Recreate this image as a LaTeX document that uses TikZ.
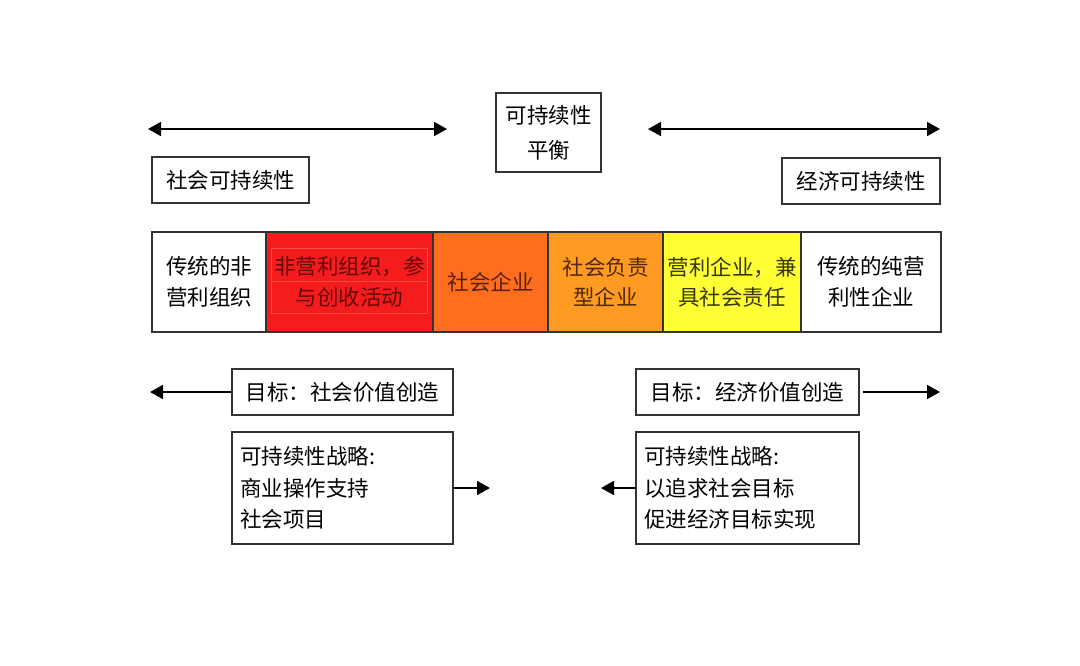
\documentclass[tikz,border=0pt]{standalone}
\usepackage{fontspec}
\setmainfont{Noto Sans CJK SC}
\usetikzlibrary{arrows.meta}
\definecolor{cred}{HTML}{F41C1C}
\definecolor{corA}{HTML}{FF6E1E}
\definecolor{corB}{HTML}{FF9A22}
\definecolor{cyel}{HTML}{FFFF33}
\definecolor{edge}{HTML}{333333}
\tikzset{
  box/.style={draw=edge, line width=1.2pt, fill=white, inner sep=0pt, font=\fontsize{21.5}{31.5}\selectfont, align=center},
  cell/.style={draw=edge, line width=1.2pt, inner sep=0pt, minimum height=100pt, font=\fontsize{21.5}{30.5}\selectfont, align=center},
  arr/.style={line width=1.8pt, -{Triangle[length=13pt,width=14pt]}},
  darr/.style={line width=1.8pt, {Triangle[length=13pt,width=14pt]}-{Triangle[length=13pt,width=14pt]}},
}
\begin{document}
\begin{tikzpicture}[x=1pt,y=-1pt]
\useasboundingbox[fill=white] (0,0) rectangle (1080,665);
% top row
\coordinate (tl1) at (148,129);
\coordinate (tl2) at (447,129);
\coordinate (tr1) at (648,129);
\coordinate (tr2) at (940,129);
\draw[darr] (tl1) -- (tl2);
\draw[darr] (tr1) -- (tr2);
\node[box, minimum width=105pt, minimum height=79pt, font=\fontsize{21.5}{35}\selectfont] (bal) at (548.5,132.5) {可持续性\\平衡};
\node[box, minimum width=157pt, minimum height=46pt] (soc) at (230.5,180) {社会可持续性};
\node[box, minimum width=158pt, minimum height=46pt] (eco) at (861,181) {经济可持续性};
% bar
\node[cell, fill=white, minimum width=114pt] (c1) at (209,282) {传统的非\\营利组织};
\node[cell, fill=cred, minimum width=167pt] (c2) at (349.5,282) {};
\begin{scope}[draw={rgb,255:red,245;green,75;blue,75}, line width=0.5pt]
\draw (c2.north west) ++(6,17) coordinate (g1) -- ++(156,0) coordinate (g2);
\draw (c2.north west) ++(6,50) coordinate (g3) -- ++(156,0) coordinate (g4);
\draw (c2.north west) ++(6,82) coordinate (g5) -- ++(156,0) coordinate (g6);
\draw (g1) -- (g5); \draw (g2) -- (g6);
\end{scope}
\node[font=\fontsize{21.5}{30.5}\selectfont, align=center, inner sep=0pt, text={rgb,255:red,100;green,8;blue,8}] (c2t) at (c2) {非营利组织，参\\与创收活动};
\node[cell, fill=corA, minimum width=115pt, text={rgb,255:red,90;green,32;blue,5}] (c3) at (490.5,282) {社会企业};
\node[cell, fill=corB, minimum width=115pt, text={rgb,255:red,80;green,42;blue,5}] (c4) at (605.5,282) {社会负责\\型企业};
\node[cell, fill=cyel, minimum width=138pt, text={rgb,255:red,55;green,55;blue,10}] (c5) at (732,282) {营利企业，兼\\具社会责任};
\node[cell, fill=white, minimum width=140pt] (c6) at (871,282) {传统的纯营\\利性企业};
% goals
\node[box, minimum width=221pt, minimum height=46pt] (gs) at (342.5,392) {目标：社会价值创造};
\node[box, minimum width=223pt, minimum height=46pt] (ge) at (747.5,392) {目标：经济价值创造};
\coordinate (gsl) at (150,392);
\coordinate (ger) at (940,392);
\draw[arr] (gs.west) -- (gsl);
\draw[arr] ([xshift=3pt]ge.east) -- (ger);
% strategies
\node[box, minimum width=221pt, minimum height=112pt, text width=205pt, align=left] (ss) at (342.5,488) {可持续性战略:\\商业操作支持\\社会项目};
\node[box, minimum width=223pt, minimum height=112pt, text width=207pt, align=left] (se) at (747.5,488) {可持续性战略:\\以追求社会目标\\促进经济目标实现};
\coordinate (ssr) at (490,488);
\coordinate (sel) at (601,488);
\draw[arr] (ss.east) -- (ssr);
\draw[arr] (se.west) -- (sel);
\end{tikzpicture}
\end{document}
